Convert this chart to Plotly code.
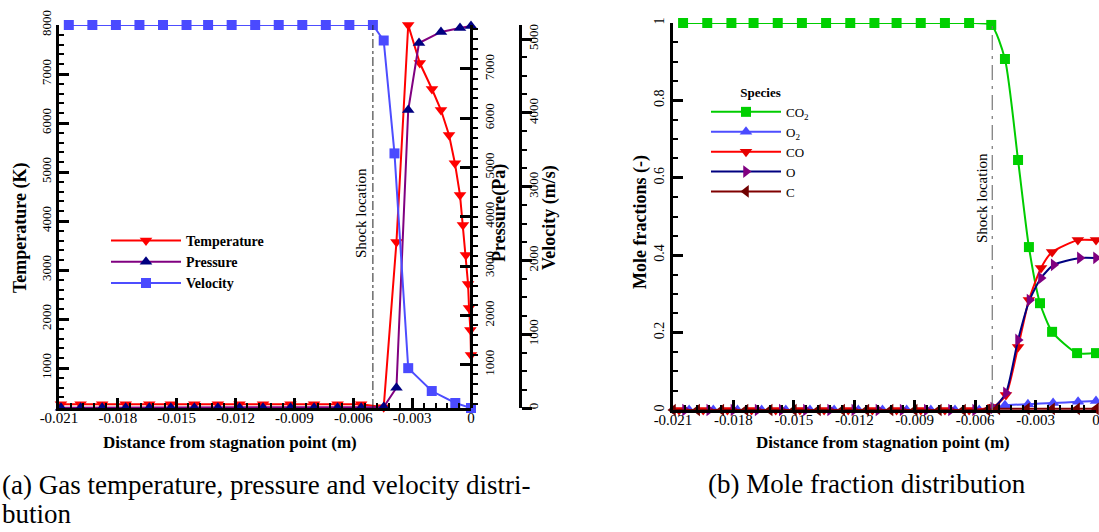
import plotly.graph_objects as go

# ---------------- data: panel (a) ----------------
temp_x = [-0.0209, -0.0199, -0.0188, -0.0176, -0.0164, -0.0153, -0.0141, -0.0129, -0.0118, -0.0106,
          -0.0092, -0.0080, -0.0068, -0.0056, -0.00445, -0.0038, -0.0032, -0.00261, -0.00199, -0.00153,
          -0.00112, -0.00082, -0.00056, -0.00041, -0.00026, -0.00015, -0.0001, -0.00003, 0.0]
temp_y = [260, 260, 260, 260, 260, 260, 260, 260, 260, 260,
          260, 260, 260, 260, 200, 3570, 8000, 7224, 6694, 6265,
          5755, 5180, 4530, 3920, 3306, 2714, 2224, 1775, 1265]

pres_x = [-0.0209, -0.0199, -0.0188, -0.0176, -0.0164, -0.0153, -0.0141, -0.0129, -0.0118, -0.0106,
          -0.0092, -0.0080, -0.0068, -0.0056, -0.00445, -0.0038, -0.0032, -0.00265, -0.00153,
          -0.00056, 0.0]
pres_y = [125, 125, 125, 125, 125, 125, 125, 125, 125, 125,
          125, 125, 125, 125, 140, 530, 6166, 7525, 7750, 7830, 7870]

vel_x = [-0.0205, -0.0193, -0.0181, -0.0169, -0.0157, -0.0145, -0.0134, -0.0122, -0.0110, -0.0098,
         -0.0086, -0.0074, -0.0062, -0.0050, -0.00445, -0.0039, -0.0032, -0.0020, -0.0008, 0.0]
vel_y = [5190, 5190, 5190, 5190, 5190, 5190, 5190, 5190, 5190, 5190,
         5190, 5190, 5190, 5190, 4980, 3450, 540, 230, 68, 0]

shock_a = -0.0050

# ---------------- data: panel (b) ----------------
co2_x = [-0.0205, -0.0193, -0.0181, -0.0170, -0.0158, -0.0146, -0.0134, -0.0122, -0.0110, -0.0099,
         -0.0087, -0.0075, -0.0063, -0.0052, -0.00452, -0.00387, -0.00333, -0.00278, -0.00218, -0.00094, 0.0]
co2_y = [1.0, 1.0, 1.0, 1.0, 1.0, 1.0, 1.0, 1.0, 1.0, 1.0,
         1.0, 1.0, 1.0, 0.995, 0.907, 0.646, 0.421, 0.276, 0.202, 0.147, 0.147]

o2_x = [-0.0202, -0.0190, -0.0178, -0.0166, -0.0154, -0.0142, -0.0130, -0.0118, -0.0106, -0.0094,
        -0.0082, -0.0070, -0.0058, -0.0051, -0.00452, -0.00338, -0.00213, -0.00089, 0.0]
o2_y = [0.0, 0.0, 0.0, 0.0, 0.0, 0.0, 0.0, 0.0, 0.0, 0.0,
        0.0, 0.0, 0.0, 0.003, 0.012, 0.015, 0.018, 0.021, 0.023]

co_x = [-0.0207, -0.0195, -0.0183, -0.0171, -0.0159, -0.0147, -0.0135, -0.0123, -0.0111, -0.0099,
        -0.0087, -0.0075, -0.0063, -0.0051, -0.00447, -0.00387, -0.00333, -0.00273, -0.00218, -0.0009, 0.0]
co_y = [0.0, 0.0, 0.0, 0.0, 0.0, 0.0, 0.0, 0.0, 0.0, 0.0,
        0.0, 0.0, 0.0, 0.008, 0.039, 0.163, 0.284, 0.367, 0.408, 0.439, 0.439]

o_x = [-0.0204, -0.0192, -0.0180, -0.0168, -0.0156, -0.0144, -0.0132, -0.0120, -0.0108, -0.0096,
       -0.0084, -0.0072, -0.0060, -0.0051, -0.00447, -0.00387, -0.0033, -0.00273, -0.0021, -0.0008, 0.0]
o_y = [0.0, 0.0, 0.0, 0.0, 0.0, 0.0, 0.0, 0.0, 0.0, 0.0,
       0.0, 0.0, 0.0, 0.005, 0.044, 0.181, 0.284, 0.341, 0.375, 0.393, 0.393]

c_x = [-0.0210, -0.0198, -0.0186, -0.0174, -0.0162, -0.0150, -0.0138, -0.0126, -0.0114, -0.0102,
       -0.0090, -0.0078, -0.0066, -0.0054, -0.0049, -0.00343, -0.00218, -0.00094, 0.0]
c_y = [0.0, 0.0, 0.0, 0.0, 0.0, 0.0, 0.0, 0.0, 0.0, 0.0,
       0.0, 0.0, 0.0, 0.0, 0.003, 0.003, 0.003, 0.003, 0.003]

shock_b = -0.00515

x_tick_vals = [-0.021, -0.018, -0.015, -0.012, -0.009, -0.006, -0.003, 0.0]
x_tick_text = ["-0.021", "-0.018", "-0.015", "-0.012", "-0.009", "-0.006", "-0.003", "0"]

# ---------------- layout helpers ----------------
W, H = 1099, 532
SERIF = "'Liberation Serif', 'Times New Roman', Times, 'DejaVu Serif', serif"


def fx(p):
    return p / W


def fy(p):
    return 1 - p / H


fig = go.Figure()

RED = "#ff0000"
PURPLE = "#800080"
NAVY = "#000080"
BLUE = "#4d4dff"
GREEN = "#00cc00"
DRED = "#800000"

fig.add_trace(go.Scatter(x=temp_x, y=temp_y, name="Temperature", mode="lines+markers",
                         line=dict(color=RED, width=2),
                         marker=dict(symbol="triangle-down", size=11, color=RED),
                         xaxis="x", yaxis="y", legend="legend", cliponaxis=False))
fig.add_trace(go.Scatter(x=pres_x, y=pres_y, name="Pressure", mode="lines+markers",
                         line=dict(color=PURPLE, width=2),
                         marker=dict(symbol="triangle-up", size=11, color=NAVY),
                         xaxis="x", yaxis="y2", legend="legend", cliponaxis=False))
fig.add_trace(go.Scatter(x=vel_x, y=vel_y, name="Velocity", mode="lines+markers",
                         line=dict(color=BLUE, width=2),
                         marker=dict(symbol="square", size=10, color="#4a4aff"),
                         xaxis="x", yaxis="y3", legend="legend", cliponaxis=False))

species = [
    ("CO<sub>2</sub>", co2_x, co2_y, GREEN, "#00d000", "square", 10),
    ("O<sub>2</sub>", o2_x, o2_y, BLUE, "#4a4aff", "triangle-up", 11),
    ("CO", co_x, co_y, RED, "#e60000", "triangle-down", 11),
    ("O", o_x, o_y, NAVY, PURPLE, "triangle-right", 11),
    ("C", c_x, c_y, DRED, "#700000", "triangle-left", 11),
]
for name, xs, ys, lc, mc, sym, sz in species:
    fig.add_trace(go.Scatter(x=xs, y=ys, name=name, mode="lines+markers",
                             line=dict(color=lc, width=2, shape="spline", smoothing=0.6),
                             marker=dict(symbol=sym, size=sz, color=mc),
                             xaxis="x2", yaxis="y4", legend="legend2", cliponaxis=False))

axis_common = dict(showline=True, linecolor="black", linewidth=3, showgrid=False, zeroline=False,
                   tickcolor="black", tickwidth=3, ticklen=10, automargin=False,
                   ticklabeloverflow="allow")

xa = dict(axis_common, tickmode="array", tickvals=x_tick_vals, ticktext=x_tick_text, range=[-0.021, 0],
          ticks="inside", tickfont=dict(family=SERIF, size=15, color="black"), ticklabelstandoff=-6,
          minor=dict(tickmode="linear", tick0=0, dtick=0.0006, ticks="inside", ticklen=5, tickwidth=2,
                     tickcolor="black"))

ytick_font = dict(family=SERIF, size=13, color="black")

fig.update_layout(
    width=W, height=H, margin=dict(l=0, r=0, t=0, b=0, autoexpand=False),
    paper_bgcolor="white", plot_bgcolor="white",
    showlegend=True,
    xaxis=dict(xa, domain=[fx(59), fx(471)], anchor="y"),
    yaxis=dict(axis_common, domain=[fy(408), fy(25)], range=[184, 8000], anchor="x",
               tickmode="linear", tick0=0, dtick=1000, ticks="inside", tickangle=-90, tickfont=ytick_font,
               minor=dict(tickmode="linear", tick0=0, dtick=200, ticks="inside", ticklen=5, tickwidth=2,
                          tickcolor="black")),
    yaxis2=dict(axis_common, overlaying="y", side="right", anchor="free", position=fx(471),
                range=[120, 7890], tickmode="linear", tick0=0, dtick=1000, ticks="inside",
                tickangle=-90, tickfont=ytick_font, ticklabelstandoff=5,
                minor=dict(tickmode="linear", tick0=0, dtick=200, ticks="outside", ticklen=5, tickwidth=2,
                           tickcolor="black")),
    yaxis3=dict(axis_common, overlaying="y", side="right", anchor="free", position=fx(520),
                range=[0, 5190], tickmode="linear", tick0=0, dtick=1000, ticks="outside",
                tickangle=-90, tickfont=ytick_font, ticklabelstandoff=-10,
                minor=dict(tickmode="linear", tick0=0, dtick=250, ticks="outside", ticklen=5, tickwidth=2,
                           tickcolor="black")),
    xaxis2=dict(xa, domain=[fx(673), fx(1096)], anchor="y4"),
    yaxis4=dict(axis_common, domain=[fy(410), fy(23)], range=[0, 1], anchor="x2",
                tickmode="linear", tick0=0, dtick=0.2, ticks="inside", tickangle=-90,
                tickfont=dict(family=SERIF, size=14, color="black"),
                minor=dict(tickmode="linear", tick0=0, dtick=0.05, ticks="inside", ticklen=5, tickwidth=2,
                           tickcolor="black")),
    legend=dict(x=fx(106), y=fy(225), xanchor="left", yanchor="top", bgcolor="rgba(0,0,0,0)",
                font=dict(family=SERIF, size=14, color="black", weight="bold"), itemwidth=70,
                tracegroupgap=0),
    legend2=dict(x=fx(706), y=fy(80), xanchor="left", yanchor="top", bgcolor="rgba(0,0,0,0)",
                 font=dict(family=SERIF, size=13, color="black"), itemwidth=70,
                 title=dict(text="Species", side="top center",
                            font=dict(family=SERIF, size=13, color="black", weight="bold"))),
)

# shock location lines (from data constants)
fig.add_shape(type="line", xref="x", yref="y domain", x0=shock_a, x1=shock_a, y0=0, y1=1,
              line=dict(color="#222222", width=1, dash="dashdot"))
fig.add_shape(type="line", xref="x2", yref="y4 domain", x0=shock_b, x1=shock_b, y0=0, y1=1,
              line=dict(color="#777777", width=1.2, dash="longdashdot"))

ann = []


def text(x, y, s, size, angle=0, bold=False, xanchor="center"):
    ann.append(dict(x=fx(x), y=fy(y), xref="paper", yref="paper", text=s, showarrow=False,
                    textangle=angle, xanchor=xanchor, yanchor="middle",
                    font=dict(family=SERIF, size=size, color="black", weight="bold" if bold else "normal")))


text(20, 228, "Temperature (K)", 18, -90, True)
text(499, 213, "Pressure(Pa)", 18, -90, True)
text(549, 218, "Velocity (m/s)", 18, -90, True)
text(640, 222, "Mole fractions (-)", 18, -90, True)
text(230, 442, "Distance from stagnation point (m)", 17, 0, True)
text(883, 442, "Distance from stagnation point (m)", 17, 0, True)
text(361, 213, "Shock location", 15, -90)
text(982, 198, "Shock location", 15, -90)
text(0, 485, "(a) Gas temperature, pressure and velocity distri-", 27, 0, False, "left")
text(0, 514, "bution", 27, 0, False, "left")
text(867, 484, "(b) Mole fraction distribution", 27, 0, False)

fig.update_layout(annotations=ann)

fig.write_html("out.html")
